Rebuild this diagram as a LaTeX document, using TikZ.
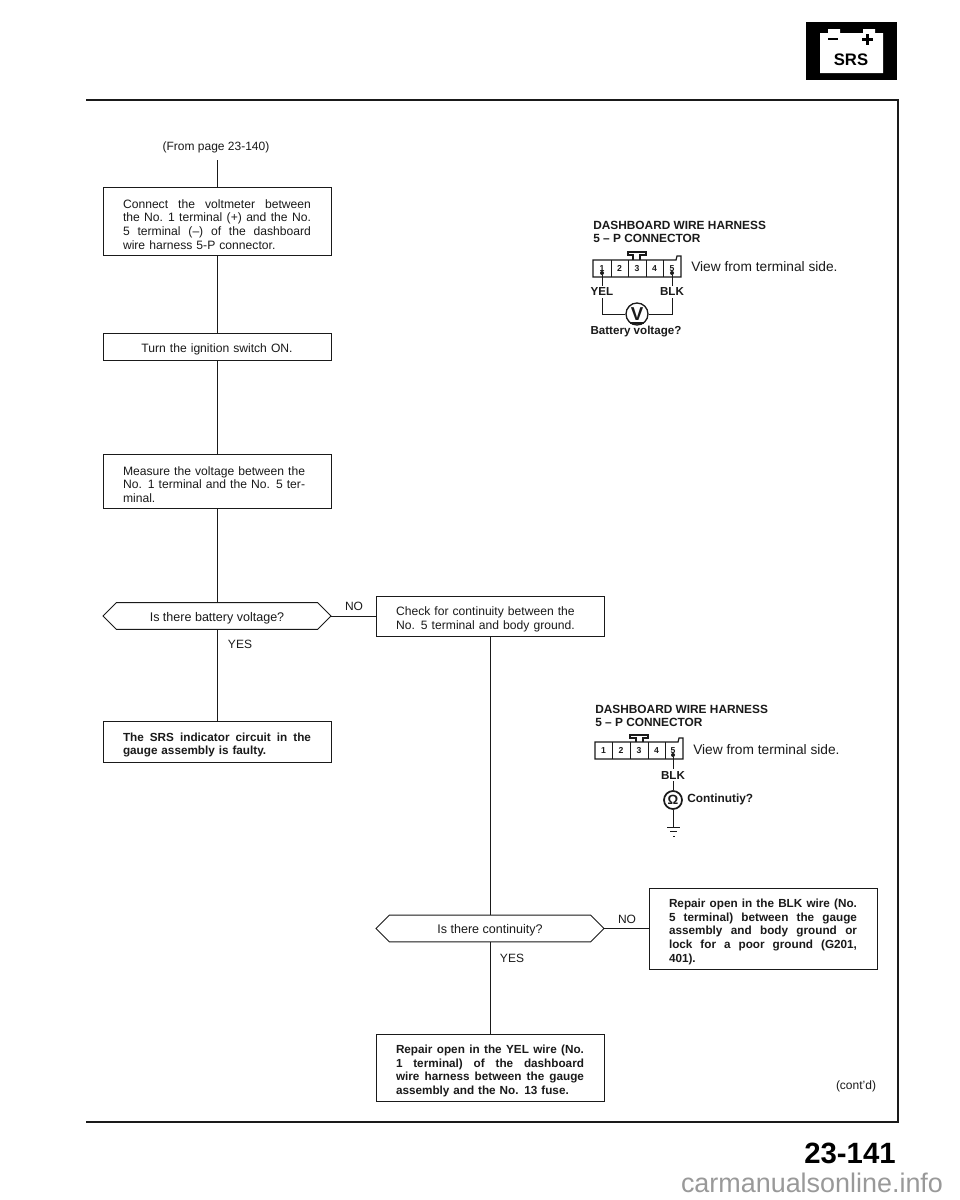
\documentclass[tikz,border=0pt]{standalone}
\usepackage{fontspec}
\setmainfont{Liberation Sans}
\usetikzlibrary{shapes.misc}
\definecolor{ink}{HTML}{1A1A1A}
\newcommand{\JL}[1]{\leavevmode\hbox to 141pt{\spaceskip=0.25em plus 1fil\relax\xspaceskip=0.3em plus 1fil\relax #1}}
\newcommand{\HX}[1]{\raisebox{-0.42em}[0pt][0pt]{#1}}
\tikzset{
  x=0.75pt,y=-0.75pt,
  line/.style={draw=ink,line width=0.65pt},
  flowbox/.style={draw=ink,line width=0.65pt,rectangle,inner xsep=15pt,inner ysep=0pt,align=left,text=ink,
     text width=141pt,font=\fontsize{9.1}{10.2}\selectfont,
     execute at begin node={\rule{0pt}{11.5pt}}},
  boldbox/.style={flowbox,font=\fontsize{8.8}{10.2}\selectfont\bfseries},
  hexa/.style={draw=ink,line width=0.65pt,chamfered rectangle,chamfered rectangle xsep=14pt,chamfered rectangle ysep=10pt,
     minimum width=171pt,inner sep=0pt,text=ink,font=\fontsize{9.4}{10}\selectfont},
  label/.style={inner sep=0pt,text=ink,font=\fontsize{9}{11}\selectfont},
  title/.style={inner sep=0pt,text=ink,align=left,anchor=north west,font=\fontsize{8.9}{9.8}\selectfont\bfseries},
  wirelabel/.style={inner sep=1.5pt,text=ink,font=\fontsize{8.7}{10}\selectfont\bfseries},
  pin/.style={circle,fill=ink,inner sep=0pt,minimum size=3pt},
  digit/.style={inner sep=0pt,text=ink,font=\fontsize{6.5}{8}\selectfont\bfseries},
  conn/.style={draw=ink,line width=0.9pt,fill=white},
  meter/.style={circle,draw=ink,line width=1pt,fill=white,inner sep=0pt,text=ink}
}
\begin{document}
\begin{tikzpicture}
\useasboundingbox (0,0) rectangle (960,1200);
\fill[white] (0,0) rectangle (960,1200);

% SRS icon
\fill[black] (806,22) rectangle (897,80);
\fill[white] (820,33) -- (828,33) -- (828,29) -- (840,29) -- (840,33) -- (863,33) -- (863,29) -- (875,29) -- (875,33) -- (883,33) -- (883,73) -- (820,73) -- cycle;
\fill[black] (828,37.5) rectangle (838,40);
\fill[black] (862,38) rectangle (873,41);
\fill[black] (866,33.5) rectangle (869,45);
\node[inner sep=0pt,font=\fontsize{12.5}{14}\selectfont\bfseries] (srs) at (851,60) {SRS};

% Frame
\draw[draw=ink,line width=1.1pt] (86,100) -- (898,100) -- (898,1122) -- (86,1122);

% Flow chart
\node[label] (from) at (216,147) {(From page 23-140)};
\coordinate (fromend) at (217,160);
\node[flowbox,minimum height=51pt] (b1) at (217,221) {\JL{Connect the voltmeter between}\\\JL{the No. 1 terminal (+) and the No.}\\\JL{5 terminal (–) of the dashboard}\\wire harness 5-P connector.};
\node[flowbox,minimum height=20.25pt,align=center] (b2) at (217,346.5) {Turn the ignition switch ON.};
\node[flowbox,minimum height=40.5pt] (b3) at (217,481) {Measure the voltage between the\\No. 1 terminal and the No. 5 ter-\\minal.};
\node[hexa] (h1) at (217,616) {\HX{Is there battery voltage?}};
\node[flowbox,minimum height=30pt] (b4) at (490,616) {Check for continuity between the\\No. 5 terminal and body ground.};
\node[boldbox,minimum height=30.75pt] (b5) at (217,741.5) {\JL{The SRS indicator circuit in the}\\gauge assembly is faulty.};
\node[hexa] (h2) at (490,928.5) {\HX{Is there continuity?}};
\node[boldbox,minimum height=60.75pt] (b6) at (763,928.5) {\JL{Repair open in the BLK wire (No.}\\\JL{5 terminal) between the gauge}\\\JL{assembly and body ground or}\\\JL{lock for a poor ground (G201,}\\401).};
\node[boldbox,minimum height=50.25pt] (b7) at (490,1067.5) {\JL{Repair open in the YEL wire (No.}\\\JL{1 terminal) of the dashboard}\\\JL{wire harness between the gauge}\\assembly and the No. 13 fuse.};

\draw[line] (fromend) -- (b1.north);
\draw[line] (b1.south) -- (b2.north);
\draw[line] (b2.south) -- (b3.north);
\draw[line] (b3.south) -- (h1.north);
\draw[line] (h1.south) -- (b5.north);
\draw[line] (h1.east) -- (b4.west);
\draw[line] (b4.south) -- (h2.north);
\draw[line] (h2.south) -- (b7.north);
\draw[line] (h2.east) -- (b6.west);

\node[label] (no1) at (354,606) {NO};
\node[label] (yes1) at (240,644) {YES};
\node[label] (no2) at (627,919) {NO};
\node[label] (yes2) at (512,958) {YES};
\node[label] (cont) at (856,1086) {(cont'd)};

% First connector
\node[title] (t1) at (593,221) {DASHBOARD WIRE HARNESS\\5 – P CONNECTOR};
\begin{scope}[shift={(593,260)}]
  \draw[conn] (40,0) -- (40,-5) -- (35,-5) -- (35,-8) -- (53,-8) -- (53,-5) -- (47,-5) -- (47,0);
  \draw[conn] (0,0) -- (83,0) -- (84,-4) -- (88,-4) -- (88,17) -- (0,17) -- cycle;
  \draw[line] (18,0) -- (18,17) (35.5,0) -- (35.5,17) (53,0) -- (53,17) (70,0) -- (70,17);
  \node[digit] (a1) at (9,8.5) {1};
  \node[digit] (a2) at (26.5,8.5) {2};
  \node[digit] (a3) at (44,8.5) {3};
  \node[digit] (a4) at (61.5,8.5) {4};
  \node[digit] (a5) at (79,8.5) {5};
  \node[pin] (ap1) at (9,13) {};
  \node[pin] (ap5) at (79,13) {};
\end{scope}
\node[label,anchor=west,font=\fontsize{10.3}{11}\selectfont] (v1) at (691,267) {View from terminal side.};
\node[wirelabel] (yel) at (602,292) {YEL};
\node[wirelabel] (blk1) at (672,292) {BLK};
\node[meter,minimum size=16.5pt,font=\fontsize{14}{14}\selectfont\bfseries] (vm) at (637,314) {V};
\draw[line] (ap1) -- (ap1 |- yel.north);
\draw[line] (ap5) -- (ap5 |- blk1.north);
\draw[line] (ap1 |- yel.south) |- (vm.west);
\draw[line] (ap5 |- blk1.south) |- (vm.east);
\draw[draw=ink,line width=1.1pt] (630,323) -- (644,323);
\node[label,font=\fontsize{8.7}{10}\selectfont\bfseries] (bv) at (636,332) {Battery voltage?};

% Second connector
\node[title] (t2) at (595,705) {DASHBOARD WIRE HARNESS\\5 – P CONNECTOR};
\begin{scope}[shift={(595,742)}]
  \draw[conn] (41,0) -- (41,-4) -- (35,-4) -- (35,-7) -- (53,-7) -- (53,-4) -- (48,-4) -- (48,0);
  \draw[conn] (0,0) -- (83,0) -- (84,-4) -- (88,-4) -- (88,17) -- (0,17) -- cycle;
  \draw[line] (17,0) -- (17,17) (35,0) -- (35,17) (53,0) -- (53,17) (70,0) -- (70,17);
  \node[digit] (c1) at (8.5,8.5) {1};
  \node[digit] (c2) at (26,8.5) {2};
  \node[digit] (c3) at (44,8.5) {3};
  \node[digit] (c4) at (61.5,8.5) {4};
  \node[digit] (c5) at (78,8.5) {5};
  \node[pin] (cp5) at (78,13) {};
\end{scope}
\node[label,anchor=west,font=\fontsize{10.3}{11}\selectfont] (v2) at (693,750) {View from terminal side.};
\node[wirelabel] (blk2) at (673,775) {BLK};
\node[meter,line width=1.3pt,minimum size=13.5pt,font=\fontsize{10}{11}\selectfont\bfseries] (om) at (673,800) {Ω};
\coordinate (gnd) at (673,827);
\draw[line] (cp5) -- (cp5 |- blk2.north);
\draw[line] (cp5 |- blk2.south) -- (om.north);
\draw[line] (om.south) -- (gnd);
\draw[line] (667,827) -- (680,827);
\draw[line] (670,831.5) -- (677,831.5);
\draw[line] (673,836) -- (674.5,836);
\node[label,anchor=west,font=\fontsize{8.9}{10}\selectfont\bfseries] (ct) at (687,799) {Continutiy?};

% Footer
\node[inner sep=0pt,text=black,font=\fontsize{22}{24}\selectfont\bfseries] (pg) at (850,1153) {23-141};
\node[inner sep=0pt,text=black!40,font=\fontsize{20.2}{22}\selectfont] (wm) at (812,1183) {carmanualsonline.info};
\end{tikzpicture}
\end{document}
